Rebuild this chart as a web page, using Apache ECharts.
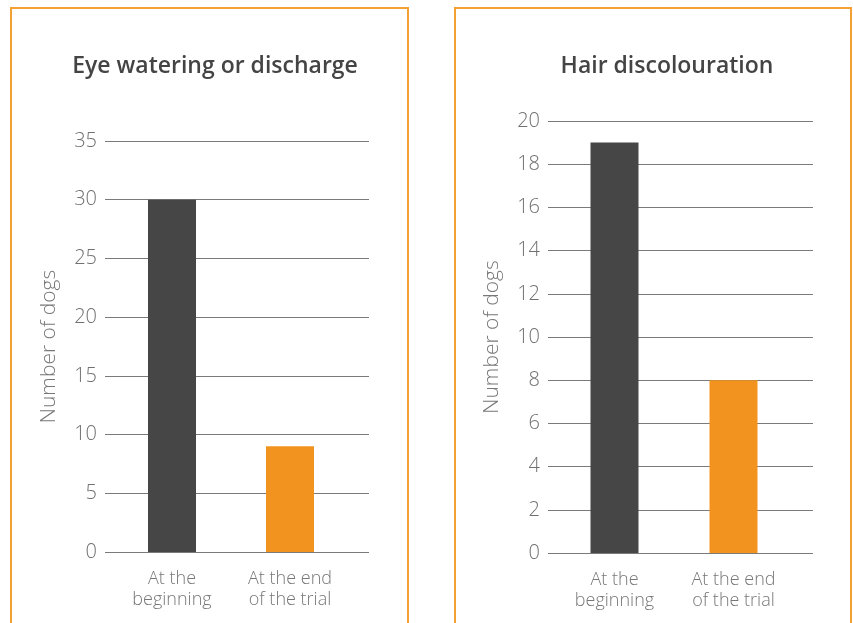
<!DOCTYPE html>
<html>
<head>
<meta charset="utf-8">
<script src="https://cdn.jsdelivr.net/npm/echarts@6/dist/echarts.min.js"></script>
<style>
  html, body { margin: 0; padding: 0; background: #ffffff; }
  #main { width: 853px; height: 623px; }
</style>
</head>
<body>
<div id="main"></div>
<script>
// 数据
var categories = ["At the\nbeginning", "At the end\nof the trial"];
var eyeTitle = "Eye watering or discharge";
var eyeValues = [30, 9];
var hairTitle = "Hair discolouration";
var hairValues = [19, 8];
var barColors = ["#464646", "#f3931f"];

var font = "Open Sans";
var lineColor = "#7a7a7a";

// 一个面板: 横线网格 + 柱子网格
function linesAxis(grid, max, interval) {
  return {
    type: "value",
    gridIndex: grid,
    min: 0,
    max: max,
    interval: interval,
    name: "Number of dogs",
    nameLocation: "middle",
    nameGap: 45,
    nameTextStyle: { color: "#777777", fontSize: 21, fontFamily: font, fontWeight: 300 },
    axisLine: { show: false },
    axisTick: { show: false },
    axisLabel: { color: "#707070", fontSize: 20, fontFamily: font, fontWeight: 300, margin: 8 },
    splitLine: { show: true, lineStyle: { color: lineColor, width: 1 } },
  };
}
function barsAxis(grid, max) {
  return { type: "value", gridIndex: grid, min: 0, max: max, show: false, splitLine: { show: false } };
}
function coloured(values) {
  return values.map(function (v, i) {
    return { value: v, itemStyle: { color: barColors[i] } };
  });
}

var chart = echarts.init(document.getElementById("main"));
var option = {
  animation: false,
  backgroundColor: "#ffffff",
  title: [
    { text: eyeTitle, left: 210, top: 50, textAlign: "center",
      textStyle: { color: "#444444", fontSize: 23, fontWeight: 600, fontFamily: font } },
    { text: hairTitle, left: 662, top: 50, textAlign: "center",
      textStyle: { color: "#444444", fontSize: 23, fontWeight: 600, fontFamily: font } },
  ],
  graphic: [
    { type: "rect", shape: { x: 11, y: 8, width: 397, height: 640 },
      style: { fill: null, stroke: "#f5a033", lineWidth: 2 }, z: -1 },
    { type: "rect", shape: { x: 455, y: 8, width: 396, height: 640 },
      style: { fill: null, stroke: "#f5a033", lineWidth: 2 }, z: -1 },
  ],
  grid: [
    { left: 105, top: 141, width: 264, height: 411 },
    { left: 113, top: 141, width: 236, height: 411 },
    { left: 548, top: 121, width: 265, height: 432 },
    { left: 555, top: 121, width: 238, height: 432 },
  ],
  xAxis: [
    { type: "value", gridIndex: 0, min: 0, max: 1, show: false },
    { type: "category", gridIndex: 1, data: categories,
      axisLine: { show: false }, axisTick: { show: false },
      axisLabel: { color: "#777777", fontSize: 18, lineHeight: 21, fontFamily: font, fontWeight: 300, margin: 16 } },
    { type: "value", gridIndex: 2, min: 0, max: 1, show: false },
    { type: "category", gridIndex: 3, data: categories,
      axisLine: { show: false }, axisTick: { show: false },
      axisLabel: { color: "#777777", fontSize: 18, lineHeight: 21, fontFamily: font, fontWeight: 300, margin: 16 } },
  ],
  yAxis: [
    linesAxis(0, 35, 5),
    barsAxis(1, 35),
    linesAxis(2, 20, 2),
    barsAxis(3, 20),
  ],
  series: [
    { type: "bar", xAxisIndex: 1, yAxisIndex: 1, barWidth: 48, data: coloured(eyeValues), z: 3 },
    { type: "bar", xAxisIndex: 3, yAxisIndex: 3, barWidth: 48, data: coloured(hairValues), z: 3 },
  ],
};
chart.setOption(option);
</script>
</body>
</html>
